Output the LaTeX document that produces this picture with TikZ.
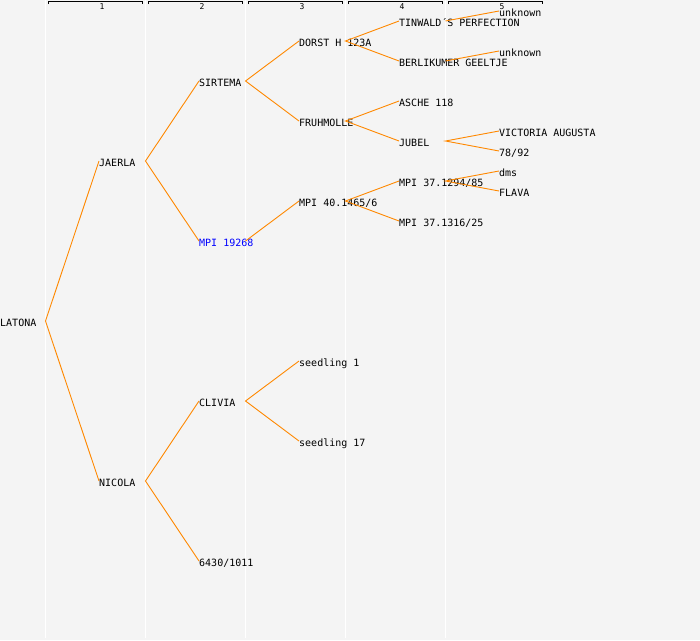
\documentclass[tikz,border=0pt]{standalone}
\usepackage{fontspec}
\usepackage{xcolor}
\newfontfamily\pedfont{DejaVu Sans Mono}
\definecolor{bggray}{RGB}{244,244,244}
\definecolor{linkorange}{RGB}{255,136,0}
\tikzset{
  cult/.style={anchor=west,inner sep=0pt,text height=10pt,text depth=0pt,
    font=\pedfont\fontsize{10}{12}\selectfont},
  link/.style={draw=linkorange,line width=0.9pt},
  colnum/.style={anchor=base,inner sep=0pt,font=\pedfont\fontsize{8}{9}\selectfont},
}

\begin{document}
\begin{tikzpicture}[x=1pt,y=-1pt]
  \fill[bggray] (0,0) rectangle (700,640);
  \useasboundingbox (0,0) rectangle (700,640);
  % column rules, headers and fork points
  \foreach \n in {1,...,5}{
    \draw[white,line width=1pt] (100*\n-54.5,0) -- (100*\n-54.5,638);
    \draw[line width=0.8pt] (100*\n-52,4) -- (100*\n-52,1.5) -- (100*\n+42,1.5) -- (100*\n+42,4);
    \node[colnum] (head\n) at (100*\n+2,9) {\n};
    \coordinate (c\n) at (100*\n-54.5,0);
  }
  \node[cult] (latona) at (0,321) {LATONA};
  \node[cult] (jaerla) at (99,161) {JAERLA};
  \node[cult] (nicola) at (99,481) {NICOLA};
  \node[cult] (sirtema) at (199,81) {SIRTEMA};
  \node[cult,text=blue] (mpi19268) at (199,241) {MPI 19268};
  \node[cult] (clivia) at (199,401) {CLIVIA};
  \node[cult] (n6430) at (199,561) {6430/1011};
  \node[cult] (dorst) at (299,41) {DORST H 123A};
  \node[cult] (fruhmolle) at (299,121) {FRUHMOLLE};
  \node[cult] (mpi40) at (299,201) {MPI 40.1465/6};
  \node[cult] (seedlingA) at (299,361) {seedling 1};
  \node[cult] (seedlingB) at (299,441) {seedling 17};
  \node[cult] (tinwald) at (399,21) {TINWALD´S PERFECTION};
  \node[cult] (berlikumer) at (399,61) {BERLIKUMER GEELTJE};
  \node[cult] (asche) at (399,101) {ASCHE 118};
  \node[cult] (jubel) at (399,141) {JUBEL};
  \node[cult] (mpi37a) at (399,181) {MPI 37.1294/85};
  \node[cult] (mpi37b) at (399,221) {MPI 37.1316/25};
  \node[cult] (unknownA) at (499,11) {unknown};
  \node[cult] (unknownB) at (499,51) {unknown};
  \node[cult] (victoria) at (499,131) {VICTORIA AUGUSTA};
  \node[cult] (n7892) at (499,151) {78/92};
  \node[cult] (dms) at (499,171) {dms};
  \node[cult] (flava) at (499,191) {FLAVA};
  % parent links
  \draw[link] (jaerla.west) -- (latona.west -| c1) -- (nicola.west);
  \draw[link] (sirtema.west) -- (jaerla.west -| c2) -- (mpi19268.west);
  \draw[link] (clivia.west) -- (nicola.west -| c2) -- (n6430.west);
  \draw[link] (dorst.west) -- (sirtema.west -| c3) -- (fruhmolle.west);
  \draw[link] (mpi19268.west -| c3) -- (mpi40.west);
  \draw[link] (seedlingA.west) -- (clivia.west -| c3) -- (seedlingB.west);
  \draw[link] (tinwald.west) -- (dorst.west -| c4) -- (berlikumer.west);
  \draw[link] (asche.west) -- (fruhmolle.west -| c4) -- (jubel.west);
  \draw[link] (mpi37a.west) -- (mpi40.west -| c4) -- (mpi37b.west);
  \draw[link] (tinwald.west -| c5) -- (unknownA.west);
  \draw[link] (berlikumer.west -| c5) -- (unknownB.west);
  \draw[link] (victoria.west) -- (jubel.west -| c5) -- (n7892.west);
  \draw[link] (dms.west) -- (mpi37a.west -| c5) -- (flava.west);
\end{tikzpicture}
\end{document}
